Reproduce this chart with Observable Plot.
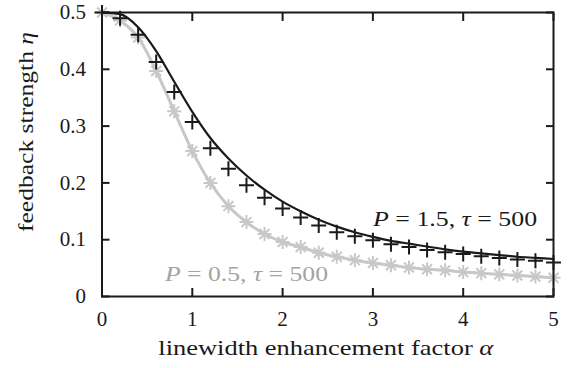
<!DOCTYPE html>
<html><head><meta charset="utf-8">
<script src="https://cdn.jsdelivr.net/npm/d3@7"></script>
<script src="https://cdn.jsdelivr.net/npm/@observablehq/plot@0.6"></script>
<style>
body{margin:0;background:#fff}
svg{display:block}
#chart svg text, #chart svg tspan {font-family: "Liberation Serif", "Times New Roman", serif !important;}
</style>
</head><body><div id="chart"></div>
<script>
// linewidth enhancement factor alpha
const alpha = [0,0.2,0.4,0.6,0.8,1.0,1.2,1.4,1.6,1.8,2.0,2.2,2.4,2.6,2.8,3.0,3.2,3.4,3.6,3.8,4.0,4.2,4.4,4.6,4.8,5.0];
// P = 1.5 : simulation (plus markers)
const etaP15Marks = [0.500,0.490,0.461,0.413,0.360,0.307,0.261,0.225,0.196,0.174,0.155,0.139,0.125,0.113,0.106,0.099,0.092,0.087,0.082,0.078,0.075,0.071,0.068,0.065,0.063,0.060];
// P = 1.5 : theory (black line)
const etaP15Line = [0.500,0.497,0.474,0.432,0.378,0.325,0.279,0.243,0.213,0.188,0.167,0.150,0.135,0.123,0.113,0.105,0.098,0.093,0.088,0.083,0.079,0.076,0.073,0.070,0.068,0.066];
// P = 0.5 : (grey line + star markers)
const etaP05 = [0.500,0.486,0.456,0.397,0.326,0.256,0.200,0.159,0.131,0.110,0.096,0.087,0.077,0.070,0.064,0.059,0.055,0.051,0.048,0.046,0.043,0.041,0.039,0.037,0.035,0.033];

const xTicks = [0,1,2,3,4,5];
const yTicks = [0,0.1,0.2,0.3,0.4,0.5];
const yTickLabels = ["0","0.1","0.2","0.3","0.4","0.5"];
const xLabel = "linewidth enhancement factor α";
const yLabel = "feedback strength η";

const annotText = ["P = 1.5, τ = 500", "P = 0.5, τ = 500"];
const annotAlpha = [3.91, 1.60];
const annotEta = [0.1235, 0.0265];
const annotColor = ["#1a1a1a", "#a3a3a3"];

const black = "#1a1a1a";
const grey = "#c8c8c8";

const p15m = alpha.map((a, i) => ({a, eta: etaP15Marks[i]}));
const p15l = alpha.map((a, i) => ({a, eta: etaP15Line[i]}));
const p05 = alpha.map((a, i) => ({a, eta: etaP05[i]}));
const annots = annotText.map((t, i) => ({t, a: annotAlpha[i], eta: annotEta[i], c: annotColor[i]}));

const plusSym = {draw(ctx, size) {
  const r = Math.sqrt(size / Math.PI);
  ctx.moveTo(-r, 0); ctx.lineTo(r, 0);
  ctx.moveTo(0, -r); ctx.lineTo(0, r);
}};
const starSym = {draw(ctx, size) {
  const r = Math.sqrt(size / Math.PI);
  const d = r * Math.SQRT1_2;
  ctx.moveTo(-r, 0); ctx.lineTo(r, 0);
  ctx.moveTo(0, -r); ctx.lineTo(0, r);
  ctx.moveTo(-d, -d); ctx.lineTo(d, d);
  ctx.moveTo(-d, d); ctx.lineTo(d, -d);
}};

const chart = Plot.plot({
  width: 570, height: 368,
  marginLeft: 101.5, marginRight: 17, marginTop: 12, marginBottom: 72,
  style: {fontFamily: "'Liberation Serif', serif", fontSize: "21px", color: black, background: "#fff"},
  x: {domain: [0, 5]},
  y: {domain: [0, 0.5]},
  marks: [
    Plot.line(p05, {x: "a", y: "eta", stroke: grey, strokeWidth: 3, curve: "monotone-x"}),
    Plot.dot(p05, {x: "a", y: "eta", symbol: starSym, r: 7, fill: "none", stroke: grey, strokeWidth: 2, clip: false}),
    Plot.line(p15l, {x: "a", y: "eta", stroke: black, strokeWidth: 2.2, curve: "monotone-x"}),
    Plot.dot(p15m, {x: "a", y: "eta", symbol: plusSym, r: 7.5, fill: "none", stroke: black, strokeWidth: 2, clip: false}),
    Plot.text(annots, {x: "a", y: "eta", text: "t", fill: "c", textAnchor: "middle", lineAnchor: "bottom", fontSize: 22}),
    Plot.axisX({ticks: xTicks, tickSize: -8, tickPadding: 23, strokeWidth: 2, stroke: black, fill: black,
      label: null, tickFormat: d => String(d)}),
    Plot.axisX({ticks: xTicks, anchor: "top", tickSize: -8, strokeWidth: 2, stroke: black, fill: "none", label: null}),
    Plot.axisY({ticks: yTicks, tickSize: -8, tickPadding: 24, strokeWidth: 2, stroke: black, fill: black,
      label: null, tickFormat: d => yTickLabels[yTicks.findIndex(v => Math.abs(v - d) < 1e-9)]}),
    Plot.axisY({ticks: yTicks, anchor: "right", tickSize: -8, strokeWidth: 2, stroke: black, fill: "none", label: null}),
    Plot.text([xLabel], {text: d => d, frameAnchor: "bottom", dy: 58, dx: -2, textAnchor: "middle", lineAnchor: "bottom", fontSize: 22, fill: black}),
    Plot.text([yLabel], {text: d => d, frameAnchor: "left", rotate: -90, dx: -76.5, dy: -22.5, textAnchor: "middle", lineAnchor: "middle", fontSize: 22, fill: black}),
    Plot.frame({stroke: black, strokeWidth: 2})
  ]
});

// stretch labels to the wider width of the original typeface
const stretch = new Map([[xLabel, 335], [yLabel, 200], [annotText[0], 164], [annotText[1], 163]]);
// italicise math symbols
const italicChars = new Set(["P", "τ", "η", "α"]);
chart.querySelectorAll("text").forEach(t => {
  const s = t.textContent;
  if (stretch.has(s)) {
    t.setAttribute("textLength", stretch.get(s));
    t.setAttribute("lengthAdjust", "spacingAndGlyphs");
  }
  if (![...s].some(ch => italicChars.has(ch)) || t.querySelector("tspan")) return;
  t.textContent = "";
  for (const ch of s) {
    const ts = document.createElementNS("http://www.w3.org/2000/svg", "tspan");
    ts.textContent = ch;
    if (italicChars.has(ch)) ts.setAttribute("font-style", "italic");
    t.appendChild(ts);
  }
});
document.getElementById("chart").appendChild(chart);
</script>
</body></html>
